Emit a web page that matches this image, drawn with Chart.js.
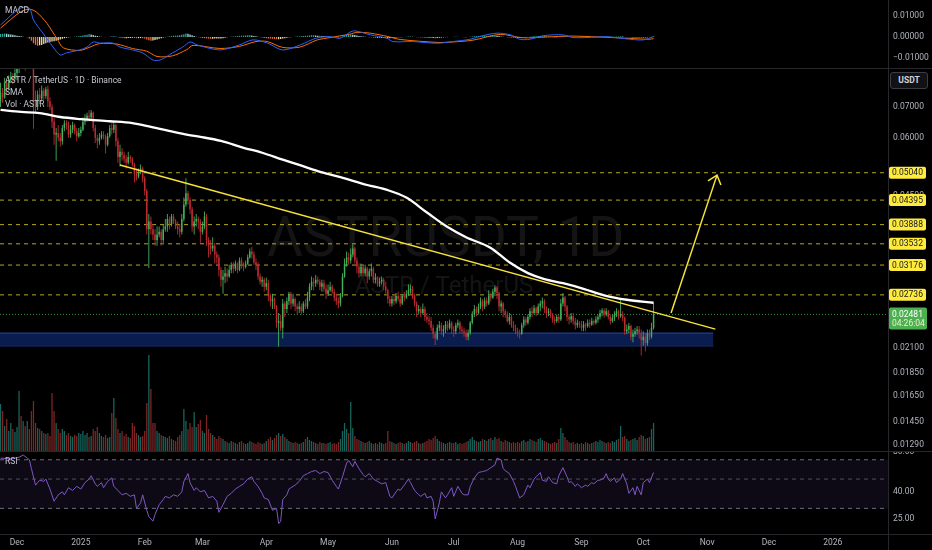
<!DOCTYPE html>
<html>
<head>
<meta charset="utf-8">
<script src="https://cdn.jsdelivr.net/npm/chart.js@4.4.1/dist/chart.umd.min.js"></script>
<style>
html, body { margin: 0; padding: 0; background: #000; }
#wrap { position: relative; width: 932px; height: 550px; overflow: hidden; background: #000; font-family: Roboto, sans-serif; }
canvas { position: absolute; left: 0; }
.sep { position: absolute; background: #26262b; }
.lbl { position: absolute; left: 5px; font-size: 8.5px; color: #c4c6ce; white-space: nowrap; line-height: 11px; }
#usdt { position: absolute; left: 890px; top: 72px; width: 38px; height: 17px; border: 1px solid #3a3d46; border-radius: 3px; background: #121215; color: #d1d4dc; font-size: 8.5px; font-weight: bold; line-height: 15px; text-align: center; box-sizing: border-box; }
</style>
</head>
<body>
<div id="wrap">
  <canvas id="macdChart" width="932" height="68" style="top:0px;width:932px;height:68px"></canvas>
  <canvas id="priceChart" width="932" height="383" style="top:68px;width:932px;height:383px"></canvas>
  <canvas id="rsiChart" width="932" height="99" style="top:451px;width:932px;height:99px"></canvas>
  <div class="sep" style="left:0;top:68px;width:932px;height:1px"></div>
  <div class="sep" style="left:0;top:451px;width:932px;height:1px"></div>
  <div class="sep" style="left:0;top:534px;width:932px;height:1px"></div>
  <div class="sep" style="left:888px;top:0;width:1px;height:550px"></div>
  <div class="lbl" style="top:5px">MACD</div>
  <div class="lbl" style="top:75px">ASTR / TetherUS · 1D · Binance</div>
  <div class="lbl" style="top:87px">SMA</div>
  <div class="lbl" style="top:99px">Vol · ASTR</div>
  <div class="lbl" style="top:456px">RSI</div>
  <div id="usdt">USDT</div>
</div>
<script>
// day 0 = 1 Dec 2024, first candle is 23 Nov 2024
const firstDay = -8;
// prices in 0.0001 USDT, open of each day = previous close
const firstOpen = 720;
const closes = [
  752,735,790,770,800,815,805,830,
  870,920,880,950,900,940,910,890,720,700,745,730,760,740,765,720,700,650,610,615,600,590,630,645,640,610,625,640,620,605,615,
  625,650,660,670,665,680,630,600,590,600,610,605,580,605,630,625,640,590,545,560,550,540,530,545,540,525,500,495,505,515,490,
  460,380,395,380,370,360,370,375,360,380,385,400,390,405,395,385,380,375,400,430,455,440,420,385,395,400,395,375,
  385,405,360,350,345,350,335,330,310,295,300,305,300,310,318,312,320,310,325,318,315,320,330,340,335,322,318,300,292,295,285,
  290,272,265,268,258,238,240,232,262,255,265,275,262,268,258,255,258,252,262,258,270,285,292,290,295,292,285,290,282,275,
  280,285,278,270,265,262,272,300,320,330,325,335,345,325,315,305,315,305,312,300,308,312,295,298,290,292,295,285,280,268,262,
  268,265,272,268,262,272,270,275,280,282,272,262,252,255,250,255,245,242,240,232,225,220,232,235,228,230,236,232,238,230,
  228,235,238,230,228,226,222,226,238,248,255,250,258,265,258,266,262,272,270,278,284,276,258,262,252,248,240,245,235,232,228,
  226,225,235,242,238,245,252,250,256,250,258,262,265,255,250,252,248,242,240,245,242,262,270,258,245,242,246,240,235,238,236,
  232,236,234,238,236,240,238,242,245,250,253,248,252,245,240,244,248,252,246,248,244,228,230,234,222,225,228,230,226,218,
  222,215,226,222,232,248.1
];
const highs = [
  790,770,810,800,820,835,830,850,
  900,960,1000,1010,980,990,950,930,900,760,760,770,780,770,775,780,735,710,665,630,640,615,640,655,655,650,640,650,645,630,630,
  635,665,675,680,690,690,685,640,610,615,620,620,610,615,640,645,650,645,600,580,570,560,550,560,550,545,530,515,515,525,520,
  495,465,410,405,390,380,385,385,380,390,400,410,405,410,410,400,395,390,410,445,490,460,445,425,405,410,405,400,
  395,415,410,365,360,365,355,340,335,315,310,315,312,318,322,322,325,322,330,330,322,325,335,345,348,340,328,322,305,300,298,
  298,295,275,275,270,260,250,248,268,265,270,278,278,275,270,262,265,262,265,268,278,290,300,298,302,300,296,295,295,288,
  288,292,288,282,275,270,276,305,328,340,338,345,352,348,330,320,320,318,318,315,312,320,315,305,300,298,300,298,292,282,272,
  272,275,276,278,272,275,278,280,288,288,286,275,265,260,258,262,258,250,246,245,236,228,236,240,238,235,240,240,242,240,
  234,238,242,240,234,232,230,230,240,252,260,258,262,270,268,270,270,280,276,282,287,286,278,266,264,255,252,250,248,240,236,
  232,230,238,246,245,248,256,258,260,258,262,266,270,268,258,256,255,250,246,248,248,268,276,272,260,248,250,250,244,242,240,
  240,240,238,242,242,244,242,246,248,254,256,256,256,254,248,248,252,256,254,268,252,246,236,238,236,230,232,234,234,230,
  228,226,230,230,238,263
];
const lows = [
  700,715,730,745,760,790,785,800,
  800,830,850,860,840,870,860,860,628,680,690,710,720,725,730,700,690,630,580,535,590,575,580,620,625,600,600,615,610,590,600,
  605,620,640,650,650,655,620,585,570,580,595,595,555,575,600,610,615,575,530,520,535,530,515,525,530,520,480,485,490,500,480,
  450,370,313,370,360,350,350,365,350,355,375,375,380,385,390,380,370,365,370,395,425,430,410,375,370,385,380,355,
  370,380,350,330,335,340,320,320,300,285,275,290,292,298,305,305,308,305,308,312,308,312,318,328,328,318,310,295,288,285,278,
  280,265,258,255,255,232,211,228,220,245,250,260,255,258,252,248,250,248,250,255,255,265,280,280,285,288,280,278,278,268,
  272,278,275,265,260,256,258,270,298,315,318,320,330,320,305,298,300,300,300,290,295,300,290,290,285,285,288,280,275,262,258,
  258,260,262,265,258,260,265,268,272,275,268,258,245,248,245,248,240,238,235,228,220,213,218,228,224,222,226,228,230,225,
  222,225,232,226,225,222,218,218,224,236,245,246,248,255,252,255,258,260,265,268,272,268,252,250,245,244,238,236,232,228,225,
  222,220,224,232,234,236,242,245,248,246,248,252,256,250,244,246,244,238,236,238,238,240,258,252,240,236,238,236,230,232,232,
  228,228,228,232,232,234,235,236,238,242,246,244,246,242,236,238,240,245,242,244,240,224,225,226,218,216,222,224,220,202,
  212,206,212,218,220,230
];
// volume, millions of ASTR
const volumes = [
  47,40,25,32,20,28,22,19,
  24,60,35,30,25,30,22,40,50,28,23,22,20,18,17,18,15,58,40,28,22,18,22,20,16,18,15,14,16,15,18,
  17,20,16,18,14,15,22,20,24,18,15,14,16,13,14,38,53,33,22,18,20,15,17,14,13,28,25,18,16,14,15,
  20,48,96,62,28,28,20,18,16,15,14,13,15,12,11,10,14,16,20,42,30,22,28,24,39,24,27,31,
  20,18,36,22,18,16,14,12,15,13,12,10,9,8,10,9,8,7,9,10,8,7,8,10,9,8,7,9,8,7,8,
  10,12,14,11,13,16,18,15,17,14,12,10,9,8,9,8,7,8,9,12,14,11,10,9,8,7,9,8,8,7,
  8,9,7,8,7,9,12,20,28,22,18,49,23,15,12,11,10,9,8,9,10,8,7,8,7,9,8,7,8,20,10,
  9,8,7,8,9,8,7,8,10,9,8,9,10,8,7,8,9,10,12,11,13,15,12,10,9,8,7,8,9,8,
  8,9,7,8,7,8,9,10,12,14,11,10,9,10,12,11,10,12,13,11,14,12,13,10,9,11,10,9,8,9,8,
  9,8,10,11,9,10,12,11,10,9,12,13,11,10,9,8,7,8,9,8,12,23,18,14,11,9,8,9,7,8,7,
  8,7,9,8,7,8,9,10,9,11,10,9,8,9,8,10,9,11,12,25,14,15,12,10,11,12,13,11,14,16,
  15,12,13,14,22,28
];
// MACD histogram, 0.0001 units
const macdHist = [
  14,15,16,15,13,12,10,8,
  6,4,3,1,0,-2,-8,-18,-30,-38,-42,-40,-38,-34,-30,-27,-24,-22,-20,-18,-15,-12,-9,-6,-4,-2,-1,0,1,2,3,
  5,7,9,11,13,12,9,6,4,2,1,0,-1,0,1,2,3,1,-2,-4,-5,-6,-6,-5,-5,-4,-5,-6,-6,-5,-6,
  -8,-12,-16,-18,-17,-15,-12,-9,-6,-3,-1,1,3,5,6,6,7,8,10,13,16,15,12,8,4,1,-1,-3,
  -5,-6,-7,-8,-9,-9,-8,-8,-8,-7,-6,-4,-2,0,1,2,3,4,5,6,6,7,8,8,7,5,3,1,-1,-3,-5,
  -6,-7,-8,-9,-10,-11,-11,-10,-8,-6,-4,-2,-1,0,1,2,2,3,4,5,6,7,8,8,7,6,6,5,4,3,
  2,1,0,-1,-2,-2,-1,2,6,9,11,12,11,9,7,5,3,2,1,0,-1,-2,-3,-4,-4,-5,-5,-5,-6,-6,-6,
  -5,-4,-3,-2,-2,-1,0,1,2,2,1,0,-1,-2,-2,-3,-3,-4,-4,-5,-5,-6,-5,-4,-3,-2,-1,-1,0,0,
  1,1,1,0,0,-1,-1,0,1,2,3,4,5,5,6,6,6,6,7,7,7,6,4,2,1,0,-1,-2,-3,-4,-4,
  -4,-4,-3,-2,-1,0,1,2,3,3,4,4,4,3,2,1,0,-1,-1,-1,0,2,3,3,2,1,0,-1,-1,-2,-2,
  -2,-2,-2,-1,-1,0,0,1,1,2,2,2,2,1,1,1,1,2,2,3,2,0,-1,-2,-3,-3,-3,-3,-3,-4,
  -3,-3,-2,-1,1,3
];
const macdDays = [-8,1.5,6,8,12.5,17.5,21,24,30.5,34,37,40,46.5,50,56,61,66,69.5,75.5,80.5,84,87.5,98.5,108,114.5,121.5,129,137.5,145.5,152,157,161.5,164,171.5,179.5,182.5,192,204,211.5,220,226,233,239.5,244,249,255.5,265,270,281.5,286.5,297.5,304,309];
const macdVals = [0.0057,0.0137,0.0137,0.0081,0.0019,-0.0048,-0.0086,-0.0076,-0.0062,-0.0048,-0.0024,-0.0029,-0.0029,-0.0048,-0.0062,-0.0076,-0.0110,-0.0110,-0.0076,-0.0048,-0.0024,-0.0038,-0.0062,-0.0038,-0.0014,-0.0029,-0.0062,-0.0038,-0.0005,0.0001,-0.0006,0.0022,0.0029,0.0010,-0.0006,-0.0022,-0.0022,-0.0030,-0.0022,-0.0011,0.0006,0.0018,0.0010,-0.0011,-0.0011,0.0006,0.0010,-0.0003,-0.0001,0.0001,-0.0011,-0.0014,0.0001];
const signalDays = [-8,1.5,6,9.5,14.5,19.5,22.5,30.5,35.5,40,48.5,56,63,68,75.5,82.5,85.5,98.5,108,116,121.5,129,137.5,145.5,152,161.5,165,171.5,180,186,204,211.5,221.5,234.5,245.5,257.5,268.5,282,297.5,307,309];
const signalVals = [0.0042,0.0118,0.0132,0.0118,0.0065,-0.0010,-0.0052,-0.0064,-0.0048,-0.0032,-0.0034,-0.0055,-0.0068,-0.0093,-0.0090,-0.0060,-0.0040,-0.0055,-0.0045,-0.0022,-0.0022,-0.0050,-0.0048,-0.0015,-0.0003,0.0013,0.0022,0.0018,0.0002,-0.0012,-0.0026,-0.0024,-0.0015,0.0012,-0.0004,0.0000,0.0004,0.0000,-0.0007,-0.0011,-0.0008];
const smaDays = [-8,2,11,21,31,45,56,65,76,83,89,99,110,119,129,137,146,157,170,180,189,199,209,218,230,239,248,256,265,275,285,296,309];
const smaVals = [0.0690,0.0683,0.0679,0.0666,0.0659,0.0652,0.0646,0.0634,0.0618,0.0609,0.0603,0.0591,0.0571,0.0557,0.0538,0.0524,0.0508,0.0493,0.0474,0.0462,0.0445,0.0413,0.0384,0.0365,0.0346,0.0322,0.0305,0.0296,0.0290,0.0282,0.0273,0.0267,0.0263];
const rsiDays = [-8,-3,1,3,5,6,7,9,10,11,13,14,16,18,20,22,23,25,27,29,31,33,35,36,38,39,41,42,44,46,47,49,51,53,55,57,58,60,61,63,64,66,67,69,71,72,74,76,78,80,81,83,84,86,87,89,91,93,95,97,98,100,102,104,106,108,110,112,114,115,117,119,120,122,124,126,127,128,129,131,132,133,135,137,139,141,143,145,147,149,151,153,155,156,158,160,161,163,164,166,168,169,171,173,175,177,179,181,182,184,185,186,188,190,191,193,195,196,198,199,201,202,203,205,206,208,209,211,212,214,216,217,219,220,222,224,226,228,230,232,233,235,236,237,239,241,242,244,246,248,249,251,252,254,255,257,258,260,262,263,265,267,268,269,271,272,274,276,277,279,280,282,283,285,286,287,288,290,291,293,294,296,297,299,300,301,303,304,306,307,309];
const rsiVals = [72,71,73,76,72,70,60,45,47,49,48,50,42,34,38,40,38,43,41,44,42,47,50,53,46,44,47,43,48,51,44,41,38,39,37,38,30,33,38,29,26,24,27,32,35,37,36,38,37,40,48,55,47,41,43,40,41,36,37,34,28,32,37,39,42,44,46,50,52,48,44,39,36,35,29,30,23,24,35,38,42,43,45,48,53,55,57,58,55,57,56,49,44,42,52,66,69,62,68,60,54,52,55,50,48,46,47,37,36,40,42,41,45,50,47,41,38,37,39,36,37,34,25,33,40,36,38,43,37,44,39,38,38,44,51,56,57,58,61,64,72,70,60,58,55,48,44,36,38,45,43,50,52,56,49,48,52,47,46,53,61,52,47,48,44,46,43,45,44,47,46,49,49,51,55,50,48,51,47,50,55,46,39,43,38,44,38,47,50,47,56];
// drawings on the price pane
const levels = [0.05040, 0.04395, 0.03888, 0.03532, 0.03176, 0.02736];
const zoneTop = 0.0226, zoneBottom = 0.0212, zoneEndDay = 338;
const trendDays = [50, 339], trendVals = [0.0524, 0.02305];
const arrowDays = [317.5, 339.8], arrowVals = [0.0250, 0.0498];
const arrowHeadDays = [335.4, 339.8, 341.7], arrowHeadVals = [0.0484, 0.0498, 0.0474];
// axes
const monthDays = [0, 31, 62, 90, 121, 151, 182, 212, 243, 274, 304, 335, 365, 396];
const monthLabels = ['Dec', '2025', 'Feb', 'Mar', 'Apr', 'May', 'Jun', 'Jul', 'Aug', 'Sep', 'Oct', 'Nov', 'Dec', '2026'];
const priceTicks = [0.07, 0.06, 0.045, 0.021, 0.0185, 0.0165, 0.0145, 0.0129];
const rsiTicks = [80, 40, 25];
const macdTicks = [0.01, 0, -0.01];
const xMin = -8.25, xMax = 422.8;

Chart.defaults.font.family = 'Roboto, sans-serif';
Chart.defaults.color = '#b2b5be';

const sc = v => v / 10000;
const days = closes.map((c, i) => firstDay + i);
const opens = closes.map((c, i) => i === 0 ? firstOpen : closes[i - 1]);
const isUp = closes.map((c, i) => c >= opens[i]);
const pts = (xs, ys) => xs.map((x, i) => ({x: x, y: ys[i]}));
const flat = (v, end) => [{x: xMin, y: v}, {x: end, y: v}];

const upColor = '#43b05c', downColor = '#bd2b30';

function baseOptions() {
  return {
    responsive: false,
    animation: false,
    events: [],
    devicePixelRatio: 1,
    layout: {padding: 0, autoPadding: false},
    plugins: {legend: {display: false}, tooltip: {enabled: false}}
  };
}

function yAxis(extra, fmt, tickList) {
  return Object.assign({
    position: 'right',
    grid: {display: false, drawTicks: false},
    border: {display: false},
    afterBuildTicks(s) { if (tickList) s.ticks = tickList.map(v => ({value: v})); },
    afterFit(s) { s.width = 44; s.paddingTop = 0; s.paddingBottom = 0; },
    ticks: {padding: 5, autoSkip: false, color: '#b2b5be', font: {size: 8.5}, callback: fmt}
  }, extra);
}

const hiddenX = {type: 'linear', min: xMin, max: xMax, offset: false, display: false};

// ---------- MACD pane ----------
const histColors = macdHist.map((h, i) => {
  const p = i ? macdHist[i - 1] : h;
  if (h >= 0) return h >= p ? '#26a69a' : '#b2dfdb';
  return h < p ? '#ef6c2f' : '#f3dfb0';
});
const macdOpts = baseOptions();
macdOpts.scales = {
  x: hiddenX,
  y: yAxis({type: 'linear', min: -0.0148, max: 0.0176},
    v => v.toFixed(5).replace('-', '\u2212'), macdTicks)
};
new Chart(document.getElementById('macdChart'), {
  type: 'bar',
  data: {datasets: [
    {type: 'line', data: pts(macdDays, macdVals), borderColor: '#2962ff', borderWidth: 1, pointRadius: 0, tension: 0.3, order: 1},
    {type: 'line', data: pts(signalDays, signalVals), borderColor: '#ff6d00', borderWidth: 1, pointRadius: 0, tension: 0.3, order: 2},
    {data: days.map((d, i) => ({x: d, y: macdHist[i] / 10000})), backgroundColor: histColors,
      grouped: false, maxBarThickness: 1.3, inflateAmount: 0, order: 3}
  ]},
  options: macdOpts
});

// ---------- price pane ----------
const watermark = {
  id: 'watermark',
  beforeDatasetsDraw(c) {
    const ctx = c.ctx, a = c.chartArea;
    ctx.save();
    ctx.fillStyle = 'rgba(255,255,255,0.08)';
    ctx.textAlign = 'center';
    ctx.textBaseline = 'middle';
    ctx.font = '55px Roboto';
    ctx.fillText('ASTRUSDT, 1D', a.left + a.width * 0.502, a.top + a.height * 0.455);
    ctx.font = '24px Roboto';
    ctx.fillText('ASTR / TetherUS', a.left + a.width * 0.5, a.top + a.height * 0.572);
    ctx.restore();
  }
};
function tag(ctx, x, y, w, h, color) {
  ctx.fillStyle = color;
  ctx.beginPath();
  ctx.roundRect(x, y, w, h, 2);
  ctx.fill();
}
const axisTags = {
  id: 'axisTags',
  afterDraw(c) {
    const ctx = c.ctx, a = c.chartArea, y = c.scales.y;
    ctx.save();
    ctx.font = '8.5px Roboto';
    ctx.textBaseline = 'middle';
    ctx.textAlign = 'left';
    levels.forEach(v => {
      const py = y.getPixelForValue(v);
      tag(ctx, a.right + 1, py - 6, 37, 12, '#ffeb3b');
      ctx.fillStyle = '#131722';
      ctx.fillText(v.toFixed(5), a.right + 4, py + 0.5);
    });
    const last = sc(closes[closes.length - 1]);
    const py = y.getPixelForValue(last);
    tag(ctx, a.right + 1, py - 7, 38, 22, '#4caf50');
    ctx.fillStyle = '#ffffff';
    ctx.fillText(last.toFixed(5), a.right + 4, py);
    ctx.fillStyle = '#e6f3c8';
    ctx.fillText('04:26:04', a.right + 4, py + 9);
    ctx.restore();
  }
};

const priceOpts = baseOptions();
priceOpts.scales = {
  x: hiddenX,
  y: yAxis({type: 'logarithmic', min: 0.01253, max: 0.0851}, v => Number(v).toFixed(5), priceTicks),
  yv: {type: 'linear', display: false, min: 0, max: 383}
};

const levelSets = levels.map(v => ({
  type: 'line', data: flat(v, xMax), borderColor: 'rgba(214,196,38,0.85)', borderWidth: 1,
  borderDash: [4, 4], pointRadius: 0, order: 15
}));

new Chart(document.getElementById('priceChart'), {
  type: 'bar',
  data: {datasets: [
    {type: 'line', data: flat(zoneTop, zoneEndDay), borderColor: '#2148a8', borderWidth: 1, pointRadius: 0,
      fill: '+1', backgroundColor: '#0b1d4e', order: 20},
    {type: 'line', data: flat(zoneBottom, zoneEndDay), borderColor: '#2148a8', borderWidth: 1, pointRadius: 0,
      fill: false, order: 20},
    ...levelSets,
    {type: 'line', data: flat(sc(closes[closes.length - 1]), xMax), borderColor: 'rgba(67,176,92,0.8)',
      borderWidth: 1, borderDash: [1, 2], pointRadius: 0, order: 14},
    {data: days.map((d, i) => ({x: d, y: volumes[i]})), yAxisID: 'yv',
      backgroundColor: isUp.map(u => u ? 'rgba(38,166,154,0.6)' : 'rgba(200,62,60,0.62)'),
      grouped: false, maxBarThickness: 1.3, inflateAmount: 0, order: 12},
    {data: days.map((d, i) => ({x: d, y: [sc(lows[i]), sc(highs[i])]})),
      backgroundColor: isUp.map(u => u ? upColor : downColor),
      grouped: false, maxBarThickness: 0.9, inflateAmount: 0, order: 10},
    {data: days.map((d, i) => ({x: d, y: [sc(Math.min(opens[i], closes[i])), sc(Math.max(opens[i], closes[i]))]})),
      backgroundColor: isUp.map(u => u ? upColor : downColor),
      grouped: false, maxBarThickness: 1.7, minBarLength: 1, inflateAmount: 0, order: 9},
    {type: 'line', data: pts(smaDays, smaVals), borderColor: '#ffffff', borderWidth: 2.3, pointRadius: 0,
      cubicInterpolationMode: 'monotone', order: 5},
    {type: 'line', data: pts(trendDays, trendVals), borderColor: '#f7e23b', borderWidth: 1.5, pointRadius: 0, order: 4},
    {type: 'line', data: pts(arrowDays, arrowVals), borderColor: '#f7e23b', borderWidth: 1.5, pointRadius: 0, order: 3},
    {type: 'line', data: pts(arrowHeadDays, arrowHeadVals), borderColor: '#f7e23b', borderWidth: 1.5, pointRadius: 0, order: 3}
  ]},
  options: priceOpts,
  plugins: [watermark, axisTags]
});

// ---------- RSI pane ----------
const rsiOpts = baseOptions();
rsiOpts.scales = {
  x: {
    type: 'linear', min: xMin, max: xMax, offset: false, position: 'bottom',
    grid: {display: false, drawTicks: false},
    border: {display: false},
    afterBuildTicks(s) { s.ticks = monthDays.map(v => ({value: v})); },
    afterFit(s) { s.height = 16; s.paddingLeft = 0; s.paddingRight = 0; },
    ticks: {autoSkip: false, maxRotation: 0, padding: 4, color: '#b2b5be', font: {size: 8.5},
      callback: v => { const k = monthDays.indexOf(v); return k >= 0 ? monthLabels[k] : ''; }}
  },
  y: yAxis({type: 'logarithmic', min: 19.2, max: 81.5}, v => Number(v).toFixed(2), rsiTicks)
};
new Chart(document.getElementById('rsiChart'), {
  type: 'line',
  data: {datasets: [
    {data: pts(rsiDays, rsiVals), borderColor: '#7e57c2', borderWidth: 1, pointRadius: 0, order: 1},
    {data: flat(70, xMax), borderColor: '#6a6d78', borderWidth: 1, borderDash: [4, 4], pointRadius: 0,
      fill: '+1', backgroundColor: 'rgba(126,87,194,0.11)', order: 5},
    {data: flat(30, xMax), borderColor: '#6a6d78', borderWidth: 1, borderDash: [4, 4], pointRadius: 0, order: 5},
    {data: flat(50, xMax), borderColor: 'rgba(106,109,120,0.7)', borderWidth: 1, borderDash: [4, 4], pointRadius: 0, order: 4}
  ]},
  options: rsiOpts
});
</script>
</body>
</html>
